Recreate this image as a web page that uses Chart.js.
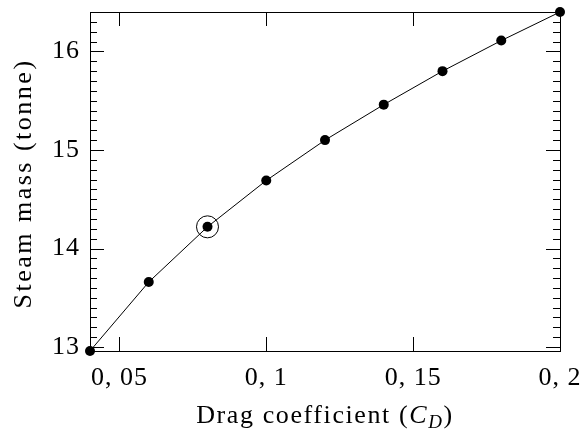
<!DOCTYPE html>
<html>
<head>
<meta charset="utf-8">
<script src="https://cdn.jsdelivr.net/npm/chart.js@4.4.1/dist/chart.umd.min.js"></script>
<style>
  html, body { margin: 0; padding: 0; background: #fff; }
  #wrap { width: 582px; height: 432px; }
</style>
</head>
<body>
<div id="wrap"><canvas id="chart" width="582" height="432"></canvas></div>
<script>
const dragCoeffs = [0.04, 0.06, 0.08, 0.10, 0.12, 0.14, 0.16, 0.18, 0.20];
const steamMass = [12.96, 13.66, 14.22, 14.69, 15.10, 15.46, 15.80, 16.11, 16.40];
const markedCoeff = [0.08];
const markedMass = [14.22];

const xTickValues = [0.05, 0.1, 0.15, 0.2];
const xTickLabels = ["0, 05", "0, 1", "0, 15", "0, 2"];
const yTickValues = [13, 14, 15, 16];
const yTickLabels = ["13", "14", "15", "16"];

const X_MIN = 0.04, X_MAX = 0.2;
const Y_MIN = 12.96, Y_MAX = 16.4;
const Y_MINOR_STEP = 0.1;

const FONT = "'Liberation Serif', 'DejaVu Serif', serif";
const X_TITLE = ["Drag coefficient (", "C", "D", ")"];
const Y_TITLE = "Steam mass (tonne)";

// frame, inward ticks (top/bottom, left/right) and axis titles
const framePlugin = {
  id: "frame",
  beforeDraw(chart) {
    chart.ctx.letterSpacing = "1px";
  },
  afterDatasetsDraw(chart) {
    const ctx = chart.ctx;
    const a = chart.chartArea;
    const xs = chart.scales.x, ys = chart.scales.y;
    ctx.save();
    ctx.strokeStyle = "#000";
    ctx.lineWidth = 1;
    ctx.beginPath();
    xTickValues.forEach(function (v) {
      const px = Math.round(xs.getPixelForValue(v)) + 0.5;
      ctx.moveTo(px, a.bottom); ctx.lineTo(px, a.bottom - 14);
      ctx.moveTo(px, a.top); ctx.lineTo(px, a.top + 14);
    });
    for (let v = 13; v <= Y_MAX + 1e-6; v += Y_MINOR_STEP) {
      const major = Math.abs(v - Math.round(v)) < 1e-6;
      const len = major ? 14 : 7;
      const py = Math.round(ys.getPixelForValue(v)) + 0.5;
      ctx.moveTo(a.left, py); ctx.lineTo(a.left + len, py);
      ctx.moveTo(a.right, py); ctx.lineTo(a.right - len, py);
    }
    ctx.stroke();
    ctx.strokeRect(Math.round(a.left) + 0.5, Math.round(a.top) + 0.5,
      Math.round(a.right - a.left), Math.round(a.bottom - a.top));
    ctx.restore();
  },
  afterDraw(chart) {
    const ctx = chart.ctx;
    const a = chart.chartArea;
    ctx.save();
    ctx.fillStyle = "#000";
    ctx.textBaseline = "alphabetic";
    ctx.letterSpacing = "1.6px";
    const normal = "26px " + FONT, italic = "italic 26px " + FONT, sub = "italic 19px " + FONT;
    const parts = [
      { t: X_TITLE[0], f: normal, dy: 0 },
      { t: X_TITLE[1], f: italic, dy: 0 },
      { t: X_TITLE[2], f: sub, dy: 5 },
      { t: X_TITLE[3], f: normal, dy: 0 }
    ];
    let total = 0;
    parts.forEach(function (p) { ctx.font = p.f; p.w = ctx.measureText(p.t).width; total += p.w; });
    let x = (a.left + a.right) / 2 - total / 2;
    const base = 423;
    parts.forEach(function (p) {
      ctx.font = p.f;
      ctx.fillText(p.t, x, base + p.dy);
      x += p.w;
    });

    // y title, rotated
    ctx.letterSpacing = "2.5px";
    ctx.font = normal;
    ctx.textAlign = "center";
    ctx.textBaseline = "middle";
    ctx.translate(24, (a.top + a.bottom) / 2 + 2);
    ctx.rotate(-Math.PI / 2);
    ctx.fillText(Y_TITLE, 0, 0);
    ctx.restore();
  }
};

new Chart(document.getElementById("chart"), {
  type: "scatter",
  data: {
    datasets: [
      {
        data: dragCoeffs.map(function (x, i) { return { x: x, y: steamMass[i] }; }),
        showLine: true,
        borderColor: "#000",
        borderWidth: 1,
        backgroundColor: "#000",
        pointBackgroundColor: "#000",
        pointBorderColor: "#000",
        pointRadius: 5,
        pointBorderWidth: 0,
        tension: 0,
        clip: false
      },
      {
        data: markedCoeff.map(function (x, i) { return { x: x, y: markedMass[i] }; }),
        showLine: false,
        pointRadius: 11,
        pointBackgroundColor: "rgba(0,0,0,0)",
        pointBorderColor: "#000",
        pointBorderWidth: 1,
        clip: false
      }
    ]
  },
  options: {
    responsive: false,
    animation: false,
    events: [],
    layout: { padding: { top: 10, right: 22, bottom: 0, left: 0 } },
    plugins: { legend: { display: false }, tooltip: { enabled: false } },
    scales: {
      x: {
        type: "linear",
        min: X_MIN,
        max: X_MAX,
        afterFit: function (s) {
          s.height = 81;
          s.paddingLeft = 0; s.paddingRight = 0;
        },
        afterBuildTicks: function (s) { s.ticks = xTickValues.map(function (v) { return { value: v }; }); },
        grid: { display: false, drawTicks: false },
        border: { display: false },
        ticks: {
          padding: 12,
          color: "#000",
          font: { family: FONT, size: 26 },
          maxRotation: 0,
          autoSkip: false,
          callback: function (v) { const i = xTickValues.indexOf(v); return i >= 0 ? xTickLabels[i] : ""; }
        },
        title: { display: false }
      },
      y: {
        type: "linear",
        min: Y_MIN,
        max: Y_MAX,
        afterFit: function (s) {
          s.width = 90;
          s.paddingTop = 0; s.paddingBottom = 0;
        },
        afterBuildTicks: function (s) { s.ticks = yTickValues.map(function (v) { return { value: v }; }); },
        grid: { display: false, drawTicks: false },
        border: { display: false },
        ticks: {
          padding: 10,
          color: "#000",
          font: { family: FONT, size: 26 },
          autoSkip: false,
          callback: function (v) { const i = yTickValues.indexOf(v); return i >= 0 ? yTickLabels[i] : ""; }
        },
        title: { display: false }
      }
    }
  },
  plugins: [framePlugin]
});
</script>
</body>
</html>
